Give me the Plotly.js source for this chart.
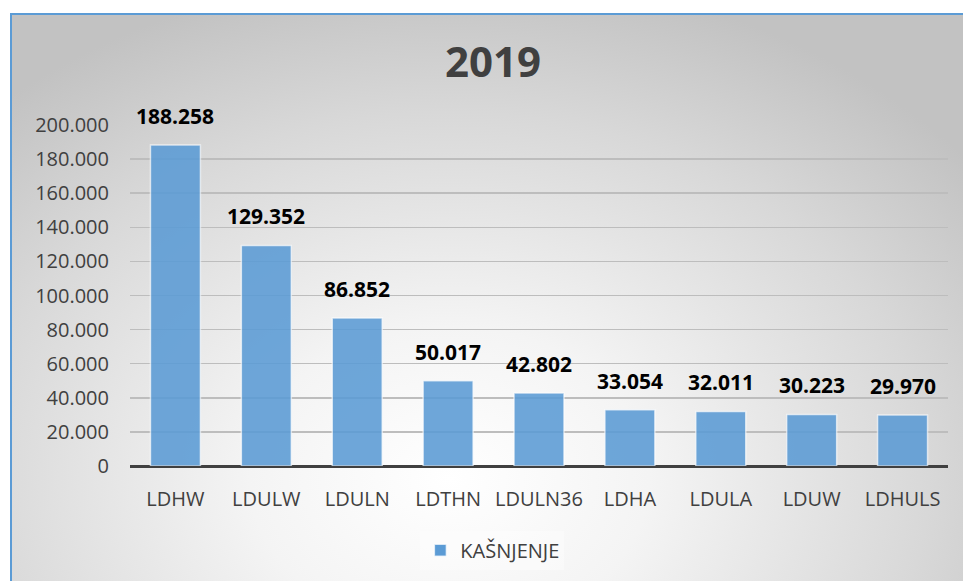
<!DOCTYPE html>
<html>
<head>
<meta charset="utf-8">
<script src="https://cdn.plot.ly/plotly-3.0.1.min.js"></script>
<style>
html,body{margin:0;padding:0;background:#ffffff;}
#bg{position:absolute;left:10px;top:13px;width:953px;height:568px;
  border-top:2px solid #5b9bd5;border-left:2px solid #5b9bd5;box-sizing:border-box;
  background:radial-gradient(ellipse 70% 90% at 46% 82%, #ffffff 0%, #f4f4f4 30%, #d8d8d8 72%, #c2c2c2 100%);}
#chart{position:absolute;left:0;top:0;width:963px;height:581px;}
</style>
</head>
<body>
<div id="bg"></div>
<div id="chart"></div>
<script>
const categories = ['LDHW','LDULW','LDULN','LDTHN','LDULN36','LDHA','LDULA','LDUW','LDHULS'];
const values = [188258, 129352, 86852, 50017, 42802, 33054, 32011, 30223, 29970];
const seriesName = 'KAŠNJENJE';
const yTicks = [0,20000,40000,60000,80000,100000,120000,140000,160000,180000,200000];

const trace = {
  type:'bar', x:categories, y:values, name:seriesName,
  marker:{color:'#5b9bd5', opacity:0.88, line:{color:'rgba(255,255,255,0.7)', width:1.5}},
  width:0.55, hoverinfo:'skip'
};

const annotations = categories.map((c,i)=>({
  x:c, y:values[i], xref:'x', yref:'y', yanchor:'bottom', yshift:13,
  text:values[i].toLocaleString('de-DE'), showarrow:false,
  font:{family:'Open Sans', size:21, color:'#000000', weight:'bold'}
}));

const layout = {
  width:963, height:581,
  paper_bgcolor:'rgba(0,0,0,0)', plot_bgcolor:'rgba(0,0,0,0)',
  margin:{l:130, r:15, t:125, b:115, autoexpand:false},
  separators:',.',
  title:{text:'<b>2019</b>', x:0.512, xanchor:'center', y:0.893, yanchor:'middle',
    font:{family:'Open Sans', size:42, color:'#404040'}},
  xaxis:{type:'category', showgrid:false, ticks:'', ticklabelstandoff:19,
    tickfont:{family:'Open Sans', size:20, color:'#404040'},
    showline:false, zeroline:false, fixedrange:true},
  yaxis:{range:[0,200000], tickvals:yTicks, tickformat:',.0f',
    showgrid:true, gridcolor:'#bdbdbd', gridwidth:1.5, zeroline:true, zerolinecolor:'#404040', zerolinewidth:3,
    ticks:'', ticklabelstandoff:20,
    tickfont:{family:'Open Sans', size:20, color:'#404040'}, layer:'above traces', fixedrange:true},
  showlegend:true,
  legend:{orientation:'h', x:0.443, xanchor:'center', y:-0.19, yanchor:'top',
    font:{family:'Open Sans', size:20, color:'#404040'}, bgcolor:'rgba(255,255,255,0.35)',
    itemwidth:30},
  annotations:annotations,
  bargap:0.45
};

Plotly.newPlot('chart',[trace],layout,{displayModeBar:false, staticPlot:true});
</script>
</body>
</html>
